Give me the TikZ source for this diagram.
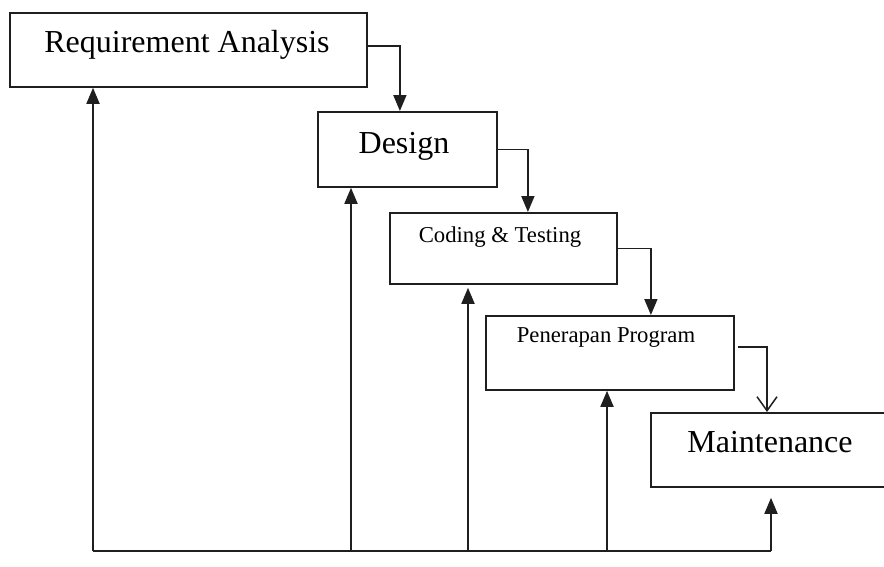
\documentclass[tikz,border=0pt]{standalone}
\usepackage{fontspec}
\setmainfont{Liberation Serif}
\usetikzlibrary{arrows.meta}
\begin{document}
\begin{tikzpicture}[x=1pt,y=-1pt,
  box/.style={draw=black!88, line width=1.8pt, rectangle, inner sep=0pt, anchor=north west},
  big/.style={font=\fontsize{32}{38}\selectfont, anchor=base, inner sep=0pt},
  small/.style={font=\fontsize{22.7}{27}\selectfont, anchor=base, inner sep=0pt},
  arr/.style={draw=black!88, line width=1.8pt, -{Triangle[width=13pt,length=16pt]}},
  openarr/.style={draw=black!88, line width=1.5pt, -{Straight Barb[width=20pt,length=14pt,line width=1.5pt]}},
  feed/.style={draw=black!88, line width=1.8pt}]
\clip (0,0) rectangle (884,566);
\fill[white] (0,0) rectangle (884,566);
% boxes
\node[box, minimum width=357pt, minimum height=74pt] (req) at (9,12) {};
\node[box, minimum width=179pt, minimum height=75pt] (des) at (317,111) {};
\node[box, minimum width=227pt, minimum height=71pt] (cod) at (389,212) {};
\node[box, minimum width=248pt, minimum height=74pt] (pen) at (485,315) {};
\node[box, minimum width=250pt, minimum height=74pt] (mai) at (650,412) {};
% labels
\node[big] (reqt) at (187,52) {Requirement Analysis};
\node[big] (dest) at (404,153) {Design};
\node[small] (codt) at (500,242) {Coding \& Testing};
\node[small] (pent) at (606,342) {Penerapan Program};
\node[big] (mait) at (770,452) {Maintenance};
% forward connectors
\draw[arr] ([yshift=4pt]req.east) -| ([xshift=-7.5pt]des.north);
\draw[arr] (des.east) -| ([xshift=24.5pt]cod.north);
\draw[arr] (cod.east) -| ([xshift=41pt]pen.north);
\coordinate (p1) at (738,347);
\coordinate (p2) at (767,347);
\draw[openarr] (p1) -- (p2) -- (p2 |- mai.north);
% feedback
\coordinate (f1) at (93,551);
\coordinate (f2) at (351,551);
\coordinate (f3) at (468,551);
\coordinate (f4) at (607,551);
\coordinate (f5) at (771,551);
\draw[feed] (f1) -- (f5);
\draw[arr] (f1) -- (f1 |- req.south);
\draw[arr] (f2) -- (f2 |- des.south);
\draw[arr] (f3) -- ([yshift=-3pt]f3 |- cod.south);
\draw[arr] (f4) -- (f4 |- pen.south);
\draw[arr] (f5) -- ([yshift=-10pt]f5 |- mai.south);
\end{tikzpicture}
\end{document}
